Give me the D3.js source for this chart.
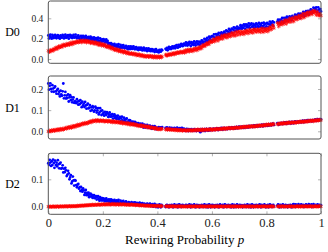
<!DOCTYPE html>
<html>
<head>
<meta charset="utf-8">
<script src="https://cdn.jsdelivr.net/npm/d3@7"></script>
<style>
  body { margin: 0; background: #fff; }
  text { font-family: "Liberation Serif", "DejaVu Serif", serif; }
</style>
</head>
<body>
<div id="chart"></div>
<script>
// rewiring probability grid: one sample every 0.0025 (40 per tenth), null = no sample
const pStep = 0.0025

const d0Blue = [
  .232,.202,.224,.240,.212,.200,.236,.220,.206,.230,.238,.214,.204,.226,.234,.208,.222,.200,.232,.216,
  .210,.236,.228,.202,.220,.240,.208,.226,.214,.234,.200,.224,.238,.212,.230,.206,.222,.236,.210,.218,
  .240,.215,.204,.225,.232,.205,.218,.195,.226,.209,.202,.228,.219,.192,.209,.228,.195,.212,.199,.218,
  .183,.206,.219,.192,.209,.184,.199,.212,.185,.192,.205,.174,.195,.210,.181,.168,.203,.186,.171,.194,
  .174,.195,.187,.162,.177,.193,.163,.177,.145,.155,.123,.144,.155,.131,.146,.123,.137,.148,.124,.130,
  .142,.114,.133,.146,.120,.108,.139,.124,.110,.131,.137,.115,.105,.123,.130,.105,.118,.097,.125,.110,
  .098,.124,.111,.099,.118,.123,.103,.095,.111,.116,.096,.106,.088,.111,.098,.092,.111,.105,.084,.097,
  .111,.086,.099,.088,.104,.077,.094,.104,.083,.096,.077,.089,.098,.077,.082,.092,.068,.085,.096,.074,
  .071,.082,.065,.089,.077,.072,.092,.086,null,null,null,null,.100,.092,.109,.085,.105,.118,.099,.115,
  .098,.112,.124,.106,.114,.126,.105,.124,.137,.118,.111,.139,.129,.120,.141,.148,.131,.126,.144,.152,
  .143,.134,.164,.148,.132,.158,.139,.168,.153,.127,.165,.143,.158,.138,.174,.152,.133,.162,.172,.143,
  .151,.171,.138,.165,.152,.183,.178,.155,.169,.198,.192,.169,.186,.207,.169,.185,.219,.203,.182,.217,
  .225,.189,.220,.242,.210,.197,.244,.227,.211,.245,.257,.228,.219,.249,.262,.231,.251,.226,.268,.251,
  .245,.280,.273,.242,.268,.295,.257,.283,.269,.298,.257,.289,.310,.279,.305,.276,.299,.319,.288,.301,
  .307,.298,.333,.317,.297,.329,.307,.341,.324,.296,.340,.315,.332,.310,.351,.327,.304,.338,.349,.316,
  .325,.345,.305,.333,.316,.349,.339,.311,.323,.354,.344,.314,.332,.352,.307,.322,.357,.337,.309,.347,
  .320,.355,.347,.316,.341,.368,.330,.355,.341,.369,.328,.360,null,null,null,null,.368,.387,.356,.368,
  .388,.352,.382,.404,.371,.358,.405,.387,.371,.404,.416,.387,.377,.407,.419,.388,.408,.382,.424,.406,
  .410,.402,.435,.420,.400,.433,.412,.446,.430,.401,.446,.424,.441,.421,.464,.441,.422,.457,.470,.440,
  .450,.473,.436,.467,.452,.488,.481,.456,.473,.505,.498,.470,.490,.508,.461,.474,.507,.485,.456,.491,
  .468
]
const d0Red = [
  .083,.071,.068,.084,.091,.079,.090,.080,.101,.095,.094,.113,.111,.097,.111,.126,.110,.124,.118,.133,
  .116,.132,.143,.128,.141,.129,.140,.151,.136,.143,.153,.137,.152,.163,.148,.143,.167,.159,.152,.168,
  .164,.160,.177,.169,.161,.176,.166,.183,.175,.162,.183,.171,.178,.167,.185,.173,.161,.177,.181,.165,
  .168,.175,.155,.166,.157,.170,.165,.149,.153,.167,.160,.145,.151,.159,.136,.141,.157,.145,.131,.147,
  .147,.128,.137,.144,.126,.117,.134,.123,.112,.124,.125,.110,.101,.111,.113,.096,.101,.087,.102,.091,
  .084,.097,.090,.075,.083,.092,.072,.080,.072,.081,.061,.072,.078,.062,.070,.054,.062,.068,.051,.054,
  .054,.049,.060,.052,.044,.054,.044,.054,.047,.035,.049,.038,.043,.034,.047,.036,.027,.038,.040,.026,
  .028,.035,.020,.030,.023,.033,.030,.019,.023,.033,.030,.018,.023,.030,.013,.018,.030,.023,.012,.025,
  .015,.027,.024,.012,.020,.029,.015,.023,null,null,null,null,.043,.032,.043,.033,.042,.049,.039,.044,
  .052,.040,.051,.060,.048,.045,.062,.057,.052,.064,.069,.059,.057,.068,.073,.063,.070,.062,.077,.072,
  .060,.088,.078,.068,.088,.095,.078,.072,.090,.097,.079,.091,.075,.100,.090,.086,.107,.102,.084,.099,
  .115,.095,.112,.106,.126,.103,.125,.140,.123,.141,.126,.142,.156,.140,.149,.164,.145,.166,.181,.164,
  .173,.168,.196,.185,.171,.198,.182,.211,.199,.178,.214,.197,.211,.196,.230,.213,.197,.226,.236,.213,
  .221,.239,.208,.232,.219,.247,.240,.220,.232,.257,.251,.228,.244,.262,.227,.241,.270,.256,.235,.267,
  .273,.250,.241,.264,.273,.248,.263,.242,.275,.260,.255,.282,.275,.250,.269,.290,.259,.278,.267,.288,
  .255,.280,.294,.269,.287,.264,.280,.295,.269,.278,.292,.263,.285,.302,.274,.263,.299,.284,.270,.295,
  .281,.301,.269,.296,.284,.315,.310,.288,.302,.332,.326,.303,null,null,null,null,.355,.340,.319,.355,
  .343,.336,.368,.354,.339,.368,.350,.382,.368,.344,.384,.364,.380,.363,.400,.381,.363,.394,.406,.379,
  .368,.397,.415,.389,.411,.387,.407,.426,.399,.411,.428,.398,.424,.445,.416,.406,.448,.433,.420,.449,
  .460,.436,.428,.455,.466,.441,.459,.438,.475,.461,.451,.476,.464,.431,.448,.466,.428,.444,.427,.445,
  .425
]

const d1Blue = [
  .226,.197,.215,.227,.200,.188,.218,.202,.187,.207,.212,.189,.178,.195,.201,.176,.187,.165,.192,.175,
  .168,.189,.226,.156,.170,.186,.155,.169,.157,.174,.141,.161,.171,.147,.161,.137,.150,.160,.135,.141,
  .140,.133,.152,.140,.126,.143,.128,.147,.134,.114,.140,.122,.131,.115,.139,.122,.107,.125,.131,.108,
  .112,.124,.097,.113,.100,.119,.112,.093,.099,.117,.110,.089,.099,.110,.080,.089,.109,.095,.077,.099,
  .081,.088,.074,.092,.082,.077,.091,.085,.068,.078,.089,.069,.079,.070,.081,.060,.072,.080,.063,.073,
  .058,.066,.074,.057,.061,.068,.048,.060,.069,.051,.043,.064,.053,.044,.057,.061,.044,.037,.050,.053,
  .052,.038,.044,.039,.046,.032,.041,.045,.034,.040,.029,.035,.039,.028,.030,.036,.023,.031,.036,.024,
  .018,.032,.025,.018,.028,.030,.021,.016,.024,.027,.016,.021,.012,.024,.017,.014,.024,.020,.010,.016,
  .015,.013,.020,.016,.012,.018,.013,.020,null,null,null,null,.016,.011,.019,.014,.009,.015,.017,.010,
  .012,.016,.008,.013,.009,.016,.014,.008,.010,.017,.014,.007,.011,.015,.006,.009,.016,.011,.005,.013,
  .009,.002,.007,.011,.004,.001,.010,.006,.002,.009,.010,.004,.002,.008,.010,.003,.006,.001,.009,.005,
  .003,.009,.007,-.004,.005,.010,.002,.007,.004,.010,.001,.007,.011,.005,.009,.003,.008,.012,.005,.008,
  .008,.006,.012,.009,.006,.011,.008,.014,.011,.006,.014,.010,.012,.009,.016,.012,.008,.014,.016,.011,
  .012,.015,.010,.014,.012,.017,.016,.012,.014,.019,.018,.013,.016,.019,.013,.015,.021,.018,.014,.020,
  .022,.017,.016,.020,.022,.017,.020,.016,.022,.020,.019,.024,.023,.018,.022,.026,.020,.024,.022,.026,
  .020,.025,.028,.022,.027,.022,.025,.029,.024,.026,.028,.023,.028,.031,.026,.024,.031,.028,.026,.031,
  .028,.031,.026,.030,.028,.034,.032,.028,.031,.036,.035,.030,null,null,null,null,.039,.036,.031,.038,
  .036,.034,.040,.037,.034,.040,.036,.042,.040,.035,.042,.038,.041,.038,.044,.041,.037,.043,.045,.040,
  .038,.043,.047,.041,.045,.041,.044,.047,.043,.045,.047,.042,.047,.050,.045,.043,.050,.048,.045,.050,
  .053,.048,.046,.051,.053,.048,.051,.047,.053,.051,.050,.055,.055,.049,.053,.058,.052,.055,.053,.058,
  .056
]
const d1Red = [
  .000,-.002,.004,.002,-.001,.005,.001,.007,.005,.001,.008,.004,.007,.004,.011,.008,.004,.010,.012,.007,
  .009,.013,.007,.012,.011,.017,.015,.012,.015,.021,.019,.015,.019,.023,.016,.019,.026,.024,.019,.026,
  .027,.022,.028,.032,.027,.026,.033,.031,.029,.035,.038,.034,.033,.038,.041,.036,.039,.036,.043,.041,
  .041,.047,.047,.042,.047,.051,.046,.050,.049,.053,.046,.051,.054,.048,.052,.047,.050,.053,.048,.050,
  .049,.052,.045,.049,.047,.051,.049,.045,.047,.051,.049,.044,.046,.049,.042,.044,.049,.046,.041,.046,
  .044,.042,.046,.043,.039,.044,.039,.045,.041,.036,.042,.038,.039,.036,.041,.037,.033,.038,.039,.033,
  .031,.038,.034,.030,.035,.036,.031,.028,.032,.033,.027,.029,.024,.030,.026,.025,.029,.028,.021,.025,
  .028,.021,.024,.021,.025,.017,.022,.024,.017,.021,.015,.018,.020,.015,.016,.017,.011,.015,.018,.011,
  .010,.012,.009,.013,.010,.009,.013,.012,null,null,null,null,.008,.010,.012,.006,.010,.012,.007,.010,
  .006,.008,.010,.006,.007,.009,.004,.008,.009,.005,.003,.008,.006,.003,.007,.008,.004,.002,.005,.006,
  .006,.003,.005,.002,.007,.005,.002,.006,.007,.003,.004,.007,.002,.006,.004,.008,.007,.003,.005,.009,
  .008,.004,.006,.009,.003,.005,.010,.007,.004,.009,.007,.006,.010,.008,.005,.009,.006,.011,.009,.005,
  .011,.006,.010,.008,.011,.006,.011,.013,.009,.012,.008,.011,.013,.010,.011,.014,.009,.013,.016,.012,
  .010,.015,.014,.012,.016,.017,.014,.013,.016,.017,.014,.016,.013,.018,.016,.015,.019,.018,.015,.018,
  .018,.016,.021,.019,.017,.021,.019,.023,.021,.018,.023,.020,.022,.020,.025,.022,.020,.024,.025,.022,
  .023,.026,.021,.024,.023,.027,.026,.023,.025,.029,.028,.025,.027,.029,.025,.027,.031,.029,.026,.031,
  .032,.028,.031,.034,.030,.029,.034,.032,.030,.034,.036,.032,null,null,null,null,.035,.032,.037,.035,
  .034,.039,.038,.034,.037,.041,.036,.039,.037,.041,.036,.040,.043,.039,.042,.038,.041,.043,.040,.042,
  .041,.044,.039,.043,.041,.045,.044,.042,.043,.047,.046,.043,.045,.048,.043,.045,.049,.047,.044,.049,
  .047,.046,.051,.049,.047,.051,.048,.052,.050,.047,.053,.050,.052,.050,.055,.052,.050,.054,.055,.052,
  .053
]

const d2Blue = [
  .159,.153,.171,.161,.149,.166,.152,.172,.160,.142,.168,.152,.161,.147,.170,.155,.140,.157,.161,.139,
  .141,.151,.125,.139,.126,.142,.133,.112,.117,.131,.122,.100,.107,.115,.085,.092,.110,.096,.077,.097,
  .095,.079,.071,.081,.083,.066,.071,.057,.072,.061,.055,.067,.060,.043,.051,.061,.042,.050,.042,.051,
  .035,.044,.048,.037,.043,.032,.038,.042,.031,.033,.039,.026,.034,.039,.028,.022,.035,.028,.023,.031,
  .023,.030,.028,.020,.025,.030,.020,.025,.021,.027,.016,.023,.027,.019,.024,.016,.021,.025,.017,.019,
  .023,.013,.020,.025,.015,.012,.022,.017,.012,.019,.021,.014,.011,.017,.019,.011,.014,.008,.017,.012,
  .012,.010,.017,.013,.008,.015,.010,.016,.012,.006,.014,.008,.012,.007,.015,.009,.004,.011,.013,.005,
  .007,.011,.003,.008,.004,.011,.009,.003,.005,.011,.009,.002,.006,.009,.000,.003,.010,.006,-.001,.007,
  .006,-.002,.004,.008,.001,-.002,.007,.003,null,null,null,null,-.001,.005,.007,.000,.004,-.002,.006,.002,
  .001,.007,.005,-.002,.003,.008,.000,.005,.002,.007,-.002,.004,.008,.001,.006,-.001,.004,.007,.001,.003,
  .003,.001,.007,.004,-.001,.006,.001,.008,.004,-.002,.007,.002,.005,.000,.008,.003,-.002,.005,.007,.001,
  .002,.006,-.002,.004,.000,.007,.005,-.001,.002,.008,.006,-.001,.003,.007,-.002,.001,.008,.004,-.002,.006,
  .005,.007,.000,.004,-.002,.006,.002,.001,.007,.005,-.002,.003,.008,.000,.005,.002,.007,-.002,.004,.008,
  .001,.006,-.001,.004,.007,.001,.003,.006,-.002,.004,.008,.001,-.002,.007,.003,-.001,.006,.008,.002,-.001,
  .005,.007,.001,.002,.006,-.002,.004,.000,.007,.005,-.001,.002,.008,.006,-.001,.003,.007,-.002,.001,.008,
  .004,-.002,.006,.003,.001,.007,.004,-.001,.006,.001,.008,.004,-.002,.007,.002,.005,.000,.008,.003,-.002,
  .005,.002,.007,-.002,.004,.008,.001,.006,-.001,.004,.007,.001,null,null,null,null,.004,.008,.001,-.002,
  .007,.003,-.001,.006,.008,.002,-.001,.005,.007,.000,.004,-.002,.006,.002,.001,.007,.005,-.002,.003,.008,
  .009,.005,-.001,.008,.003,.006,.001,.009,.004,.000,.006,.008,.002,.003,.007,-.001,.005,.001,.008,.006,
  .000,.003,.009,.007,.001,.004,.008,-.001,.002,.009,.005,.000,.007,.004,.002,.008,.005,.001,.007,.002,
  .006
]
const d2Red = [
  .000,.001,-.001,.001,.000,-.001,.001,.000,.002,.000,-.001,.001,.000,.002,.001,-.001,.001,.000,.002,.001,
  .000,.002,.001,.000,.002,.001,.003,.001,.000,.002,.001,.003,.002,.000,.002,.003,.001,.002,.003,.001,
  .002,.003,.001,.004,.003,.002,.004,.003,.005,.003,.004,.005,.003,.005,.004,.006,.005,.004,.006,.005,
  .007,.005,.006,.007,.005,.008,.006,.007,.006,.008,.007,.006,.008,.007,.009,.007,.008,.006,.009,.008,
  .008,.010,.007,.009,.008,.010,.007,.009,.011,.008,.009,.007,.010,.008,.009,.011,.008,.010,.007,.009,
  .008,.010,.009,.007,.009,.008,.010,.007,.009,.008,.010,.008,.007,.009,.008,.006,.009,.007,.008,.006,
  .008,.007,.009,.006,.008,.007,.006,.008,.005,.007,.006,.007,.005,.006,.004,.006,.005,.004,.006,.005,
  .004,.005,.003,.005,.004,.003,.005,.004,.002,.004,.003,.004,.002,.003,.004,.002,.003,.002,.004,.002,
  .003,.002,.004,.002,.003,.001,.003,.002,null,null,null,null,.002,.001,.003,.001,.002,.000,.002,.001,
  .003,.001,.002,.000,.002,.001,.003,.000,.001,.002,.000,.002,.001,.003,.001,.000,.002,.001,.000,.002,
  .001,.000,.002,.001,.000,.002,.001,.003,.000,.001,.002,.000,.001,.002,.000,.001,.003,.001,.000,.002,
  .001,.000,.002,.001,.003,.000,.001,.002,.000,.001,.002,.001,.000,.002,.001,.000,.002,.003,.001,.000,
  .002,.000,.001,.002,.000,.001,.003,.001,.000,.002,.001,.000,.002,.001,.002,.000,.001,.002,.000,.001,
  .002,.001,.000,.002,.001,.003,.000,.001,.002,.000,.001,.002,.000,.001,.003,.001,.000,.002,.001,.000,
  .001,.002,.000,.001,.002,.000,.001,.003,.000,.001,.002,.000,.001,.002,.000,.001,.002,.001,.000,.002,
  .001,.000,.002,.001,.000,.002,.001,.003,.000,.001,.002,.000,.001,.002,.001,.000,.002,.001,.003,.000,
  .001,.000,.002,.001,.000,.002,.001,.003,.000,.001,.002,.000,null,null,null,null,.001,.002,.000,.001,
  .002,.000,.001,.003,.001,.000,.002,.001,.000,.002,.001,.000,.002,.001,.003,.000,.001,.002,.000,.001,
  .000,.002,.001,.000,.002,.001,.003,.000,.001,.002,.000,.001,.003,.001,.000,.002,.001,.003,.000,.002,
  .001,.000,.002,.001,.003,.001,.000,.002,.001,.000,.002,.001,.003,.000,.002,.001,.000,.002,.003,.001,
  .001
]

const panelNames = ["D0", "D1", "D2"]
const yTicks = [[0, 0.2, 0.4], [0, 0.1, 0.2], [0, 0.1]]
const xTicks = [0, 0.2, 0.4, 0.6, 0.8, 1]

const W = 328, H = 252
const left = 48.3, right = 321

const layout = [
    {top: 1, bottom: 63.3, domain: [-0.042, 0.57], blue: d0Blue, red: d0Red},
    {top: 76, bottom: 139, domain: [-0.0364, 0.2615], blue: d1Blue, red: d1Red},
    {top: 153.3, bottom: 214.3, domain: [-0.0277, 0.195], blue: d2Blue, red: d2Red}
]

const svg = d3.select("#chart")
    .append("svg")
    .attr("width", W)
    .attr("height", H)

const x = d3.scaleLinear().domain([0, 1]).range([left, right])

const star = d3.symbol().type(d3.symbolAsterisk).size(10)

layout.forEach((pan, k) => {
    const y = d3.scaleLinear().domain(pan.domain).range([pan.bottom, pan.top])
    const g = svg.append("g")

    // inner ticks, left and right
    g.append("g")
        .attr("transform", `translate(${left},0)`)
        .call(d3.axisLeft(y).tickValues(yTicks[k]).tickSize(-3).tickPadding(5).tickFormat(d3.format(".1f")))
        .call(a => a.select(".domain").remove())
        .call(a => a.selectAll("line").attr("stroke", "#b3b3b3"))
        .call(a => a.selectAll("text").attr("fill", "#222").style("font-size", "9.5px")
            .style("font-family", '"Liberation Serif", serif'))
    g.append("g")
        .attr("transform", `translate(${right},0)`)
        .call(d3.axisRight(y).tickValues(yTicks[k]).tickSize(-3).tickFormat(""))
        .call(a => a.select(".domain").remove())
        .call(a => a.selectAll("line").attr("stroke", "#b3b3b3"))

    if (k === 2) {
        g.append("g")
            .attr("transform", `translate(0,${pan.bottom})`)
            .call(d3.axisBottom(x).tickValues(xTicks).tickSize(-3).tickPadding(4)
                .tickFormat(d => d === 0 || d === 1 ? d3.format("d")(d) : d3.format(".1f")(d)))
            .call(a => a.select(".domain").remove())
            .call(a => a.selectAll("line").attr("stroke", "#b3b3b3"))
            .call(a => a.selectAll("text").attr("fill", "#222").style("font-size", "12.5px")
                .style("font-family", '"Liberation Serif", serif'))
        g.append("g")
            .attr("transform", `translate(0,${pan.top})`)
            .call(d3.axisTop(x).tickValues(xTicks).tickSize(-3).tickFormat(""))
            .call(a => a.select(".domain").remove())
            .call(a => a.selectAll("line").attr("stroke", "#b3b3b3"))
    }

    const pts = s => s.map((v, i) => ({p: i * pStep, v: v})).filter(d => d.v !== null)

    g.append("g")
        .selectAll("circle")
        .data(pts(pan.blue))
        .join("circle")
        .attr("cx", d => x(d.p))
        .attr("cy", d => y(d.v))
        .attr("r", 1.4)
        .attr("fill", "#0000ff")

    g.append("g")
        .selectAll("path")
        .data(pts(pan.red))
        .join("path")
        .attr("transform", d => `translate(${x(d.p)},${y(d.v)})`)
        .attr("d", star)
        .attr("fill", "none")
        .attr("stroke", "#ff0000")
        .attr("stroke-width", 0.7)

    g.append("rect")
        .attr("x", left)
        .attr("y", pan.top)
        .attr("width", right - left)
        .attr("height", pan.bottom - pan.top)
        .attr("rx", 2)
        .attr("fill", "none")
        .attr("stroke", "#555")
        .attr("stroke-width", 1)

    svg.append("text")
        .attr("x", 12.5)
        .attr("y", (pan.top + pan.bottom) / 2 + 4)
        .attr("text-anchor", "middle")
        .style("font-size", "12px")
        .text(panelNames[k])
})

const title = svg.append("text")
    .attr("x", (left + right) / 2)
    .attr("y", 244)
    .attr("text-anchor", "middle")
    .style("font-size", "13px")
title.append("tspan").text("Rewiring Probability ")
title.append("tspan").style("font-style", "italic").text("p")
</script>
</body>
</html>
